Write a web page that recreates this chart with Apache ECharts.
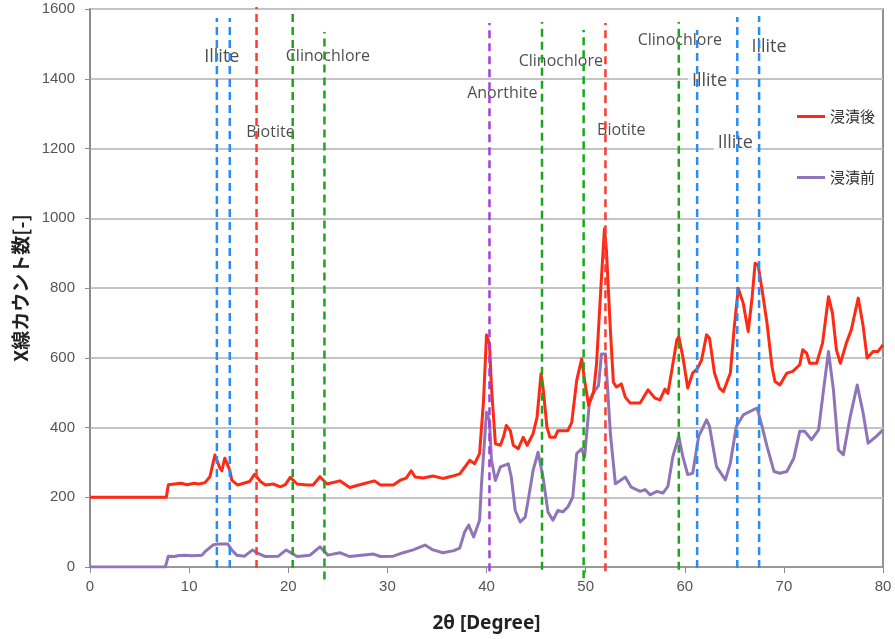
<!DOCTYPE html>
<html>
<head>
<meta charset="utf-8">
<script src="https://cdn.jsdelivr.net/npm/echarts@6/dist/echarts.min.js"></script>
<style>
  html, body { margin: 0; padding: 0; background: #fff; }
  #chart { width: 895px; height: 639px; }
</style>
</head>
<body>
<div id="chart"></div>
<script>
// 浸漬後 (after immersion)
const afterX = [0, 7.7, 7.9, 8.5, 9.2, 9.8, 10.5, 11, 11.6, 12.1, 12.6, 12.8, 13.1, 13.3, 13.6, 13.8, 14.1, 14.3, 14.9, 15.5, 16.1, 16.6, 17.2, 17.7, 18.5, 19.2, 19.7, 20.2, 20.9, 21.9, 22.5, 23.2, 23.9, 25.2, 26.2, 27.5, 28.7, 29.3, 30.6, 31.3, 31.9, 32.4, 32.8, 33.6, 34.6, 35.6, 36.5, 37.3, 37.8, 38.3, 38.8, 39.3, 39.7, 40.0, 40.3, 40.5, 40.9, 41.4, 41.7, 42.0, 42.4, 42.7, 43.2, 43.7, 44.1, 44.7, 45.1, 45.5, 45.7, 46.1, 46.4, 46.9, 47.2, 48.2, 48.6, 49.1, 49.6, 49.9, 50.3, 50.8, 51.1, 51.6, 51.9, 52.1, 52.5, 52.8, 53.1, 53.6, 54.0, 54.5, 55.5, 56.3, 57.0, 57.5, 58.0, 58.3, 58.7, 59.2, 59.4, 59.8, 60.3, 60.8, 61.3, 61.7, 62.2, 62.5, 63.0, 63.5, 63.9, 64.6, 65.0, 65.4, 65.9, 66.4, 66.8, 67.1, 67.4, 67.8, 68.3, 68.8, 69.1, 69.6, 70.3, 70.9, 71.6, 71.9, 72.3, 72.6, 73.3, 73.9, 74.5, 74.9, 75.3, 75.7, 76.3, 76.8, 77.5, 78.0, 78.4, 79.0, 79.5, 80];
const afterY = [200, 200, 236, 238, 240, 236, 240, 238, 242, 259, 321, 326, 284, 276, 312, 312, 278, 249, 235, 240, 245, 266, 245, 235, 238, 230, 236, 257, 238, 235, 235, 259, 238, 247, 228, 238, 247, 235, 235, 249, 255, 276, 258, 255, 261, 254, 260, 267, 286, 306, 296, 325, 477, 665, 640, 516, 353, 349, 372, 406, 391, 349, 339, 372, 349, 382, 430, 554, 516, 401, 372, 372, 391, 391, 415, 535, 597, 535, 463, 501, 582, 831, 970, 907, 678, 530, 516, 525, 487, 470, 470, 508, 484, 479, 510, 498, 565, 651, 661, 604, 513, 556, 570, 594, 666, 656, 556, 513, 503, 556, 690, 799, 756, 675, 775, 871, 866, 795, 699, 575, 532, 522, 556, 561, 580, 623, 613, 584, 584, 642, 775, 728, 623, 584, 642, 680, 771, 690, 599, 618, 618, 637];

// 浸漬前 (before immersion)
const beforeX = [0, 7.6, 7.9, 8.5, 9.0, 9.6, 10.3, 11.3, 11.6, 12.4, 12.9, 13.9, 14.3, 14.8, 15.6, 16.4, 16.9, 17.7, 19.0, 19.8, 20.9, 22.2, 23.2, 24.0, 25.2, 26.2, 28.6, 29.3, 30.6, 31.6, 32.6, 33.8, 34.6, 35.6, 36.7, 37.3, 37.8, 38.2, 38.7, 39.3, 39.5, 40.0, 40.3, 40.5, 40.9, 41.4, 42.2, 42.5, 42.9, 43.4, 43.9, 44.2, 44.7, 45.2, 45.7, 46.2, 46.7, 47.2, 47.7, 48.2, 48.7, 49.1, 49.6, 49.9, 50.4, 50.8, 51.3, 51.6, 52.0, 52.5, 53.0, 53.5, 54.0, 54.6, 55.5, 56.0, 56.5, 57.2, 57.8, 58.3, 58.8, 59.4, 59.8, 60.3, 60.8, 61.4, 62.2, 62.5, 63.2, 64.1, 64.6, 65.2, 65.9, 66.6, 67.3, 67.8, 68.3, 69.0, 69.6, 70.3, 71.0, 71.6, 72.1, 72.8, 73.5, 74.0, 74.5, 75.0, 75.5, 76.0, 76.7, 77.4, 78.0, 78.5, 79.3, 80];
const beforeY = [0, 0, 31, 30, 33, 34, 32, 34, 44, 63, 66, 66, 49, 34, 31, 49, 40, 30, 31, 49, 30, 34, 58, 34, 41, 30, 37, 30, 31, 41, 49, 63, 49, 41, 47, 54, 101, 120, 86, 134, 239, 444, 420, 306, 248, 287, 296, 258, 162, 129, 143, 191, 277, 329, 258, 158, 134, 162, 158, 172, 200, 325, 339, 315, 478, 501, 520, 611, 611, 382, 239, 248, 258, 229, 217, 222, 207, 217, 212, 231, 317, 374, 317, 265, 269, 374, 422, 403, 288, 250, 298, 403, 436, 446, 456, 403, 346, 274, 269, 274, 312, 389, 389, 365, 393, 508, 618, 508, 336, 322, 432, 522, 441, 355, 374, 393];

// reference peak lines: position, top, bottom, colour
const peakPos = [12.8, 14.1, 16.8, 20.45, 23.65, 40.3, 45.6, 49.8, 52.0, 59.4, 61.25, 65.3, 67.5];
const peakTop = [1574, 1574, 1606, 1589, 1534, 1560, 1563, 1540, 1560, 1563, 1540, 1577, 1580];
const peakBottom = [-3, -3, -3, -3, -36, -12, -8, -32, -12, -8, -3, -3, -3];
const peakColor = ['#2b8cf6', '#2b8cf6', '#ff3a2e', '#1aa81a', '#1aa81a', '#a63fdc', '#1aa81a', '#1aa81a', '#ff3a2e', '#1aa81a', '#2b8cf6', '#2b8cf6', '#2b8cf6'];

// mineral names
const mineralNames = ['Illite', 'Clinochlore', 'Biotite', 'Anorthite', 'Clinochlore', 'Biotite', 'Clinochlore', 'Illite', 'Illite', 'Illite'];
const mineralX = [13.3, 24.0, 18.2, 41.6, 47.5, 53.6, 59.5, 62.5, 68.5, 65.1];
const mineralY = [1462, 1465, 1247, 1359, 1451, 1253, 1511, 1394, 1491, 1216];

const zip = (xs, ys) => xs.map((x, i) => [x, ys[i]]);

const peakSeries = peakPos.map((x, i) => ({
  name: 'peak' + i,
  type: 'line',
  data: [[x, peakBottom[i]], [x, peakTop[i]]],
  showSymbol: false,
  clip: false,
  silent: true,
  z: 6,
  lineStyle: { color: peakColor[i], type: [8, 5], width: 2.5 }
}));

const chart = echarts.init(document.getElementById('chart'));
chart.setOption({
  animation: false,
  grid: {
    left: 90,
    right: 12,
    top: 9,
    bottom: 72,
    show: true,
    borderColor: '#707070',
    borderWidth: 1.5
  },
  legend: {
    orient: 'vertical',
    left: 792,
    top: 104,
    itemGap: 46,
    itemWidth: 28,
    itemHeight: 3,
    icon: 'rect',
    textStyle: { fontFamily: 'Noto Sans CJK JP', fontSize: 15, color: '#333' },
    data: ['浸漬後', '浸漬前']
  },
  xAxis: {
    type: 'value',
    min: 0,
    max: 80,
    interval: 10,
    name: '2θ [Degree]',
    nameLocation: 'middle',
    nameGap: 47,
    nameTextStyle: { fontFamily: 'Noto Sans', fontWeight: 'bold', fontSize: 19, color: '#222' },
    axisLine: { lineStyle: { color: '#8a8a8a', width: 1.5 } },
    axisTick: { show: true, length: 6, lineStyle: { color: '#8a8a8a' } },
    axisLabel: { margin: 12, fontFamily: 'Liberation Sans', fontSize: 15, color: '#555' },
    splitLine: { show: false }
  },
  yAxis: {
    type: 'value',
    min: 0,
    max: 1600,
    interval: 200,
    name: 'X線カウント数[-]',
    nameLocation: 'middle',
    nameGap: 55,
    nameTextStyle: { fontFamily: 'Noto Sans CJK JP', fontWeight: 'bold', fontSize: 19, color: '#222' },
    axisLine: { show: true, lineStyle: { color: '#8a8a8a', width: 1.5 } },
    axisTick: { show: true, length: 5, lineStyle: { color: '#8a8a8a' } },
    axisLabel: { margin: 15, fontFamily: 'Liberation Sans', fontSize: 15, color: '#555', formatter: v => String(v) },
    splitLine: { lineStyle: { color: '#c4c4c4', width: 2 } }
  },
  series: [
    {
      name: '浸漬前',
      type: 'line',
      data: zip(beforeX, beforeY),
      showSymbol: false,
      lineStyle: { color: '#8f75b8', width: 3, join: 'round' },
      itemStyle: { color: '#8f75b8' },
      z: 4
    },
    {
      name: '浸漬後',
      type: 'line',
      data: zip(afterX, afterY),
      showSymbol: false,
      lineStyle: { color: '#ff2a14', width: 3, join: 'round' },
      itemStyle: { color: '#ff2a14' },
      z: 5
    },
    {
      name: 'labels',
      type: 'scatter',
      symbolSize: 0,
      silent: true,
      z: 1,
      data: mineralX.map((x, i) => ({
        value: [x, mineralY[i]],
        label: {
          show: true,
          position: 'inside',
          formatter: mineralNames[i],
          fontFamily: 'Open Sans',
          fontSize: mineralNames[i] === 'Illite' ? 18 : 16,
          color: '#222',
          backgroundColor: '#fff',
          padding: [3, 4, 7, 4]
        }
      }))
    }
  ].concat(peakSeries)
});
</script>
</body>
</html>
